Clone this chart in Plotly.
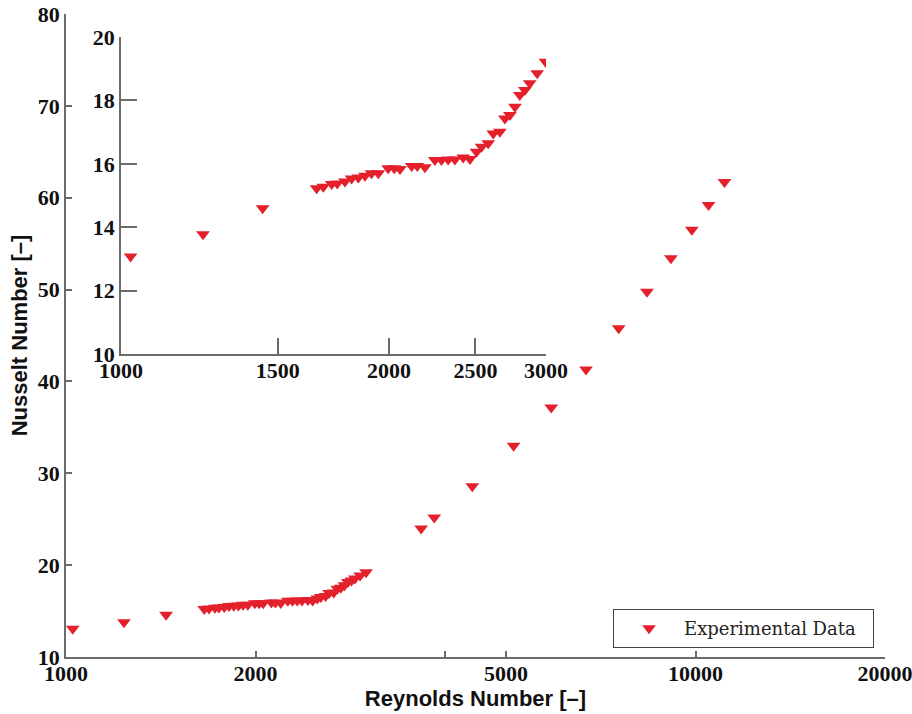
import plotly.graph_objects as go

# Reynolds number and Nusselt number
reynolds = [1025, 1236, 1442,
            1658, 1687, 1724, 1749, 1784, 1815, 1847, 1879, 1911, 1945,
            1995, 2027, 2057, 2120, 2151, 2194, 2251, 2290, 2330, 2371,
            2422, 2465, 2507, 2540, 2584, 2618, 2663, 2698, 2733, 2769,
            2804, 2841, 2877, 2933, 2997,
            3666, 3846, 4420, 5140, 5900, 6700, 7551, 8373, 9140, 9867,
            10486, 11118]
nusselt = [13.08, 13.78, 14.6,
           15.23, 15.28, 15.36, 15.38, 15.44, 15.54, 15.57, 15.62, 15.70, 15.70,
           15.86, 15.86, 15.84, 15.93, 15.93, 15.89, 16.12, 16.12, 16.14, 16.14,
           16.20, 16.15, 16.38, 16.54, 16.65, 16.96, 17.01, 17.43, 17.54, 17.80,
           18.17, 18.33, 18.54, 18.86, 19.22,
           24.0, 25.2, 28.6, 33.0, 37.15, 41.3, 45.8, 49.75, 53.4, 56.5,
           59.2, 61.7]

main_xticks = [1000, 2000, 4000, 5000, 10000, 20000]
main_xticktext = ["1000", "2000", "", "5000", "10000", "20000"]
main_yticks = [10, 20, 30, 40, 50, 60, 70, 80]
inset_xticks = [1000, 1500, 2000, 2500, 3000]
inset_yticks = [10, 12, 14, 16, 18, 20]

RED = "#e3202b"
AXC = "#6b6b6b"
tickfont = dict(family="Liberation Serif", size=22, color="#111", weight="bold")
titlefont = dict(family="Liberation Sans", size=22, color="#111", weight="bold")

fig = go.Figure()
fig.add_trace(go.Scatter(
    x=reynolds, y=nusselt, mode="markers", name="Experimental Data\u00a0\u00a0",
    marker=dict(symbol="triangle-down", size=12, color=RED, line=dict(width=0)),
    xaxis="x", yaxis="y"))
fig.add_trace(go.Scatter(
    x=reynolds, y=nusselt, mode="markers", showlegend=False,
    marker=dict(symbol="triangle-down", size=12, color=RED, line=dict(width=0)),
    xaxis="x2", yaxis="y2"))

common = dict(showline=True, linecolor=AXC, linewidth=1.8, showgrid=False,
              zeroline=False, tickfont=tickfont, tickcolor=AXC, tickwidth=1.5,
              ticks="inside", automargin=False, ticklabeloverflow="allow")

fig.update_layout(
    width=912, height=714,
    margin=dict(l=66, r=27, t=14, b=57),
    paper_bgcolor="white", plot_bgcolor="white",
    xaxis=dict(type="log", range=[3, 4.30103], domain=[0, 1],
               tickvals=main_xticks, ticktext=main_xticktext, ticklen=6,
               ticklabelstandoff=-4,
               title=dict(text="Reynolds Number [–]", standoff=5, font=titlefont),
               **common),
    yaxis=dict(range=[10, 80], domain=[0, 1], tickvals=main_yticks, ticklen=6,
               title=dict(text="Nusselt Number [–]", standoff=4, font=titlefont),
               **common),
    xaxis2=dict(type="log", range=[3, 3.47712], domain=[0.0672, 0.586],
                anchor="y2", tickvals=inset_xticks, ticklen=16,
                ticklabelstandoff=-4, **common),
    yaxis2=dict(range=[10, 20], domain=[0.4712, 0.9642], anchor="x2",
                tickvals=inset_yticks, ticklen=16, **common),
    legend=dict(x=0.9866, y=0.014, xanchor="right", yanchor="bottom",
                bgcolor="white", bordercolor="#444", borderwidth=1,
                font=dict(family="DejaVu Serif", size=18, color="#222"),
                itemwidth=60),
    showlegend=True,
)

# remove the default page margin so the figure sits at the window's corner
fig.write_html("out.html",
               config={"displayModeBar": False},
               post_script="document.body.style.margin='0';"
                           "document.body.style.overflow='hidden';")
